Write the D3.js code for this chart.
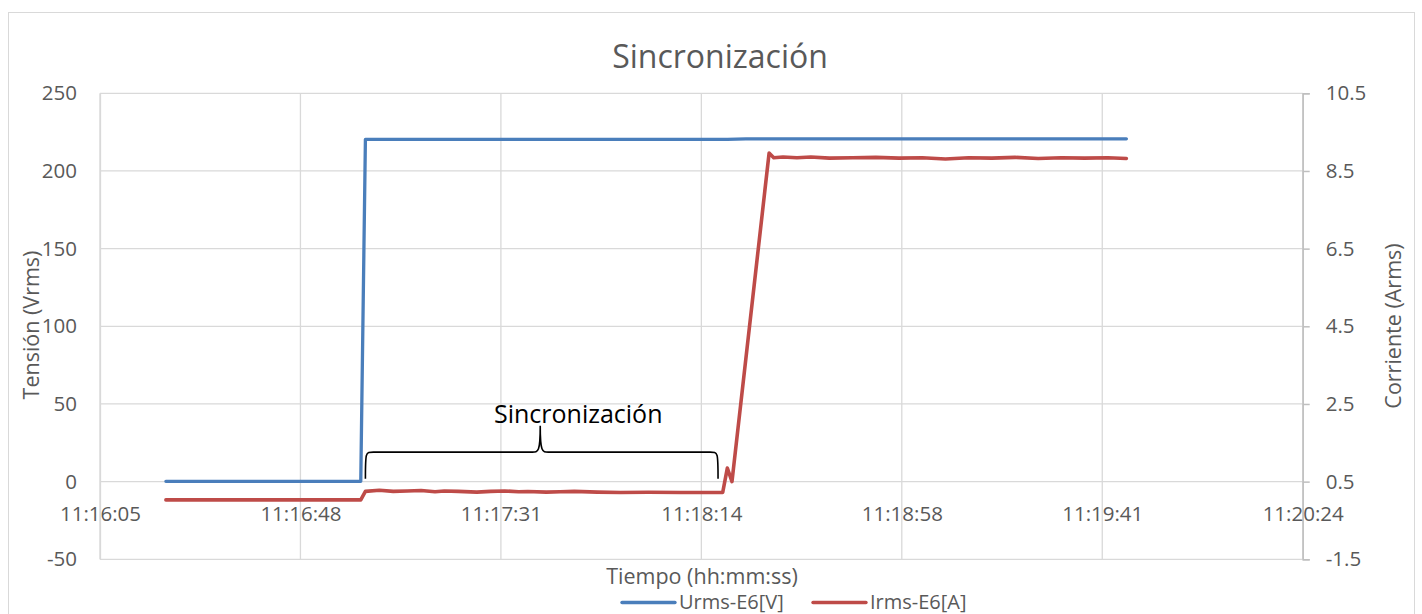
<!DOCTYPE html>
<html>
<head>
<meta charset="utf-8">
<script src="https://cdn.jsdelivr.net/npm/d3@7"></script>
<style>
  body { margin: 0; background: #fff; }
  svg { display: block; font-family: "Open Sans", sans-serif; }
</style>
</head>
<body>
<div id="chart"></div>
<script>
// values (times as hh:mm:ss)
var urmsTimes = ["11:16:19", "11:17:01", "11:17:02", "11:18:20", "11:18:24", "11:19:46"];
var urmsValues = [0.2, 0.2, 220.4, 220.3, 220.7, 220.7];

var irmsTimes = ["11:16:19", "11:17:01", "11:17:02", "11:17:05", "11:17:08", "11:17:11", "11:17:14",
  "11:17:17", "11:17:19", "11:17:22", "11:17:26", "11:17:29", "11:17:32", "11:17:35", "11:17:37",
  "11:17:41", "11:17:44", "11:17:47", "11:17:52", "11:17:57", "11:18:03", "11:18:10", "11:18:15",
  "11:18:19", "11:18:20", "11:18:21", "11:18:29", "11:18:30", "11:18:32", "11:18:35", "11:18:38",
  "11:18:42", "11:18:47", "11:18:52", "11:18:57", "11:19:02", "11:19:07", "11:19:12", "11:19:17",
  "11:19:22", "11:19:27", "11:19:32", "11:19:37", "11:19:42", "11:19:46"];
var irmsValues = [0.03, 0.03, 0.25, 0.28, 0.25, 0.26, 0.27,
  0.24, 0.26, 0.25, 0.23, 0.25, 0.26, 0.24, 0.245,
  0.23, 0.24, 0.25, 0.23, 0.22, 0.225, 0.22, 0.22,
  0.22, 0.85, 0.50, 8.96, 8.84, 8.86, 8.84, 8.86,
  8.83, 8.84, 8.85, 8.83, 8.84, 8.81, 8.84, 8.83,
  8.85, 8.82, 8.84, 8.83, 8.84, 8.82];

var xTickLabels = ["11:16:05", "11:16:48", "11:17:31", "11:18:14", "11:18:58", "11:19:41", "11:20:24"];
var leftTicks = [-50, 0, 50, 100, 150, 200, 250];
var rightTicks = [-1.5, 0.5, 2.5, 4.5, 6.5, 8.5, 10.5];
var braceTimes = ["11:17:02", "11:18:18"];
var braceLevels = [0, 19, 36]; // bottom, bar, peak (left axis units)

var width = 1422, height = 614;
var margin = { top: 93.3, right: 119.3, bottom: 54.7, left: 100 };

// excel axis: min 0.4695 day, major unit 0.0005 day
var xMin = 0.4695 * 86400, xStep = 0.0005 * 86400;

function secs(s) {
  var p = s.split(":");
  return +p[0] * 3600 + +p[1] * 60 + +p[2];
}

var svg = d3.select("#chart")
  .append("svg")
  .attr("width", width)
  .attr("height", height);

// chart border
svg.append("rect")
  .attr("x", 8.5).attr("y", 12.5)
  .attr("width", 1406).attr("height", 640)
  .attr("fill", "none")
  .attr("stroke", "#d9d9d9");

var x = d3.scaleLinear()
  .domain([xMin, xMin + xStep * (xTickLabels.length - 1)])
  .range([margin.left, width - margin.right]);
var y = d3.scaleLinear()
  .domain([-50, 250])
  .range([height - margin.bottom, margin.top]);
var y2 = d3.scaleLinear()
  .domain([-1.5, 10.5])
  .range([height - margin.bottom, margin.top]);

var xTicks = xTickLabels.map(function (d, i) { return xMin + i * xStep; });

// grid
svg.append("g")
  .selectAll("line.h")
  .data(leftTicks)
  .enter()
  .append("line")
  .attr("x1", x.range()[0]).attr("x2", x.range()[1])
  .attr("y1", function (d) { return y(d); })
  .attr("y2", function (d) { return y(d); })
  .attr("stroke", "#d9d9d9").attr("stroke-width", 1.3);
svg.append("g")
  .selectAll("line.v")
  .data(xTicks)
  .enter()
  .append("line")
  .attr("x1", function (d) { return x(d); })
  .attr("x2", function (d) { return x(d); })
  .attr("y1", y.range()[0]).attr("y2", y.range()[1])
  .attr("stroke", "#d9d9d9").attr("stroke-width", 1.3);

// plain hyphen for negatives, like excel
function hyph(f) {
  return function (d) { return f(d).replace("\u2212", "-"); };
}

// left axis
var yAxis = svg.append("g")
  .attr("transform", "translate(" + margin.left + ",0)")
  .call(d3.axisLeft(y).tickValues(leftTicks).tickSize(0).tickPadding(23)
    .tickFormat(hyph(d3.format("d"))));
yAxis.select(".domain").attr("stroke", "#d9d9d9").attr("stroke-width", 1.3);
yAxis.selectAll("text").attr("fill", "#595959").style("font-size", "20.5px")
  .style("font-family", "'Open Sans', sans-serif");

// right axis
var yAxis2 = svg.append("g")
  .attr("transform", "translate(" + (width - margin.right) + ",0)")
  .call(d3.axisRight(y2).tickValues(rightTicks).tickSize(7).tickPadding(16)
    .tickFormat(hyph(d3.format(".1f"))));
yAxis2.select(".domain").attr("stroke", "#bfbfbf").attr("stroke-width", 1.5);
yAxis2.selectAll("line").attr("stroke", "#bfbfbf").attr("stroke-width", 1.5);
yAxis2.selectAll("text").attr("fill", "#595959").style("font-size", "20.5px")
  .style("font-family", "'Open Sans', sans-serif");

// x axis labels sit at the zero line
var xAxis = svg.append("g")
  .attr("transform", "translate(0," + y(0) + ")")
  .call(d3.axisBottom(x).tickValues(xTicks).tickSize(0)
    .tickFormat(function (d, i) { return xTickLabels[i]; }));
xAxis.select(".domain").remove();
xAxis.selectAll("text")
  .attr("y", 39).attr("dy", null)
  .attr("fill", "#595959").style("font-size", "20.5px")
  .style("font-family", "'Open Sans', sans-serif");

// series
var line1 = d3.line()
  .x(function (d) { return x(secs(d[0])); })
  .y(function (d) { return y(d[1]); });
var line2 = d3.line()
  .x(function (d) { return x(secs(d[0])); })
  .y(function (d) { return y2(d[1]); });

svg.append("path")
  .datum(d3.zip(urmsTimes, urmsValues))
  .attr("d", line1)
  .attr("fill", "none")
  .attr("stroke", "#4a7ebb")
  .attr("stroke-width", 3.3)
  .attr("stroke-linejoin", "round")
  .attr("stroke-linecap", "round");

svg.append("path")
  .datum(d3.zip(irmsTimes, irmsValues))
  .attr("d", line2)
  .attr("fill", "none")
  .attr("stroke", "#be4b48")
  .attr("stroke-width", 3.6)
  .attr("stroke-linejoin", "round")
  .attr("stroke-linecap", "round");

// brace annotation
var bx0 = x(secs(braceTimes[0])), bx1 = x(secs(braceTimes[1]));
var bm = (bx0 + bx1) / 2 - 1.5;
var yb = y(braceLevels[0]) - 3, yt = y(braceLevels[1]), yp = y(braceLevels[2]);
var br = 8;
var p = d3.path();
p.moveTo(bx0, yb);
p.bezierCurveTo(bx0, yt, bx0, yt, bx0 + br, yt);
p.lineTo(bm - br, yt);
p.bezierCurveTo(bm - 2, yt, bm, yt, bm, yp);
p.bezierCurveTo(bm, yt, bm + 2, yt, bm + br, yt);
p.lineTo(bx1 - br, yt);
p.bezierCurveTo(bx1, yt, bx1, yt, bx1, yb);
svg.append("path")
  .attr("d", p.toString())
  .attr("fill", "none")
  .attr("stroke", "#000")
  .attr("stroke-width", 1.6);

svg.append("text")
  .attr("x", bm + 38)
  .attr("y", yp - 3)
  .attr("text-anchor", "middle")
  .style("font-size", "25px")
  .attr("fill", "#000")
  .text("Sincronización");

// title
svg.append("text")
  .attr("x", 720)
  .attr("y", 68)
  .attr("text-anchor", "middle")
  .style("font-size", "32px")
  .attr("fill", "#595959")
  .text("Sincronización");

// axis titles
svg.append("text")
  .attr("transform", "translate(39," + 325 + ") rotate(-90)")
  .attr("text-anchor", "middle")
  .style("font-size", "21.5px")
  .attr("fill", "#595959")
  .text("Tensión (Vrms)");

svg.append("text")
  .attr("transform", "translate(1401," + 326 + ") rotate(-90)")
  .attr("text-anchor", "middle")
  .style("font-size", "21.5px")
  .attr("fill", "#595959")
  .text("Corriente (Arms)");

svg.append("text")
  .attr("x", 702)
  .attr("y", 584)
  .attr("text-anchor", "middle")
  .style("font-size", "21.5px")
  .attr("fill", "#595959")
  .text("Tiempo (hh:mm:ss)");

// legend
var legend = [
  { name: "Urms-E6[V]", color: "#4a7ebb", x: 622 },
  { name: "Irms-E6[A]", color: "#be4b48", x: 813 }
];
var lg = svg.append("g").selectAll("g")
  .data(legend)
  .enter()
  .append("g")
  .attr("transform", function (d) { return "translate(" + d.x + ",602.5)"; });
lg.append("line")
  .attr("x1", 0).attr("x2", 53)
  .attr("stroke", function (d) { return d.color; })
  .attr("stroke-width", 3.4)
  .attr("stroke-linecap", "round");
lg.append("text")
  .attr("x", 57)
  .attr("y", 6.5)
  .style("font-size", "20px")
  .attr("fill", "#595959")
  .text(function (d) { return d.name; });
</script>
</body>
</html>
